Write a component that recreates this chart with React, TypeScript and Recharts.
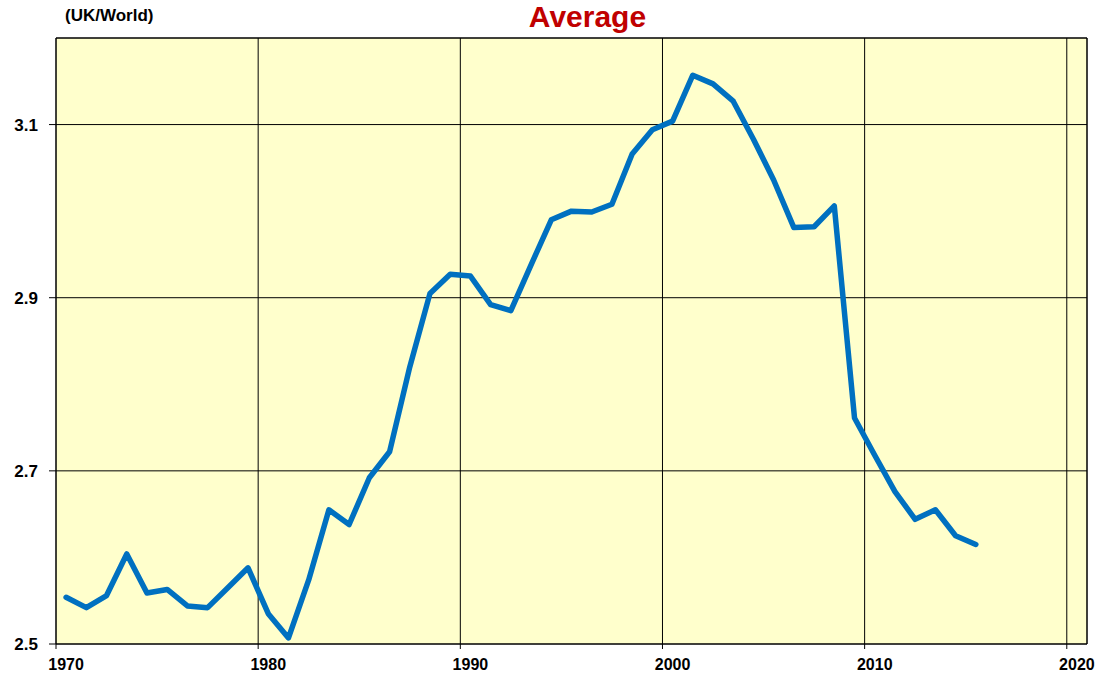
import { LineChart, Line, XAxis, YAxis, CartesianGrid, ReferenceLine } from 'recharts'

const years = [
  1970, 1971, 1972, 1973, 1974, 1975, 1976, 1977, 1978, 1979,
  1980, 1981, 1982, 1983, 1984, 1985, 1986, 1987, 1988, 1989,
  1990, 1991, 1992, 1993, 1994, 1995, 1996, 1997, 1998, 1999,
  2000, 2001, 2002, 2003, 2004, 2005, 2006, 2007, 2008, 2009,
  2010, 2011, 2012, 2013, 2014, 2015,
]

const average = [
  2.554, 2.542, 2.556, 2.604, 2.559, 2.563, 2.544, 2.542, 2.565, 2.588,
  2.535, 2.507, 2.574, 2.655, 2.638, 2.692, 2.722, 2.820, 2.905, 2.927,
  2.925, 2.892, 2.885, 2.938, 2.990, 3.000, 2.999, 3.008, 3.066, 3.094,
  3.104, 3.157, 3.147, 3.127, 3.083, 3.036, 2.981, 2.982, 3.006, 2.761,
  2.718, 2.676, 2.644, 2.655, 2.625, 2.615,
]

const xTicks = [1970, 1980, 1990, 2000, 2010, 2020]
const yTicks = [2.5, 2.7, 2.9, 3.1]

const X_MIN = 1970
const X_MAX = 2021
const Y_MIN = 2.5
const Y_MAX = 3.2

// each yearly value sits in the middle of its year
const data = years.map((y, i) => ({ x: y + 0.5, v: average[i] }))

const W = 1102
const H = 675
const LEFT = 56
const RIGHT = 15
const PLOT_W = W - LEFT - RIGHT
const HALF_YEAR = PLOT_W / (X_MAX - X_MIN) / 2

const font = '"Liberation Sans", Arial, sans-serif'

const XTick = ({ x, y, payload }: any) => (
  <text
    x={x + HALF_YEAR}
    y={y}
    dy="0.71em"
    textAnchor="middle"
    fill="#000"
    style={{ fontSize: 16, fontWeight: 700, fontFamily: font }}
  >
    {payload.value}
  </text>
)

export default function App() {
  return (
    <div style={{ position: 'absolute', left: 0, top: 0, width: W, height: H, background: '#fff', fontFamily: font }}>
      <div style={{ position: 'absolute', left: 65, top: 6, fontSize: 17, fontWeight: 700, color: '#000' }}>
        (UK/World)
      </div>
      <div
        style={{
          position: 'absolute',
          left: LEFT + 16,
          width: PLOT_W,
          top: 0,
          textAlign: 'center',
          fontSize: 30,
          fontWeight: 700,
          color: '#C00000',
          lineHeight: '34px',
        }}
      >
        Average
      </div>
      <LineChart width={W} height={H} data={data} margin={{ top: 38, right: RIGHT, bottom: 0, left: 0 }}>
        <CartesianGrid stroke="#000" strokeWidth={1} fill="#FFFFCC" fillOpacity={1} />
        <XAxis
          dataKey="x"
          type="number"
          domain={[X_MIN, X_MAX]}
          ticks={xTicks}
          allowDataOverflow
          height={31}
          tickSize={5}
          tickMargin={10}
          stroke="#000"
          tick={<XTick />}
        />
        <YAxis
          type="number"
          domain={[Y_MIN, Y_MAX]}
          ticks={yTicks}
          allowDataOverflow
          width={LEFT}
          tickSize={7}
          tickMargin={11}
          stroke="#000"
          tickFormatter={(v: number) => v.toFixed(1)}
          tick={{ fill: '#000', fontSize: 17, fontWeight: 700, fontFamily: font }}
        />
        <ReferenceLine y={Y_MAX} stroke="#000" strokeWidth={1} />
        <ReferenceLine x={X_MAX} stroke="#000" strokeWidth={1} />
        <Line
          type="linear"
          dataKey="v"
          stroke="#0070C0"
          strokeWidth={5.5}
          strokeLinejoin="round"
          strokeLinecap="round"
          dot={false}
          activeDot={false}
          isAnimationActive={false}
        />
      </LineChart>
    </div>
  )
}
